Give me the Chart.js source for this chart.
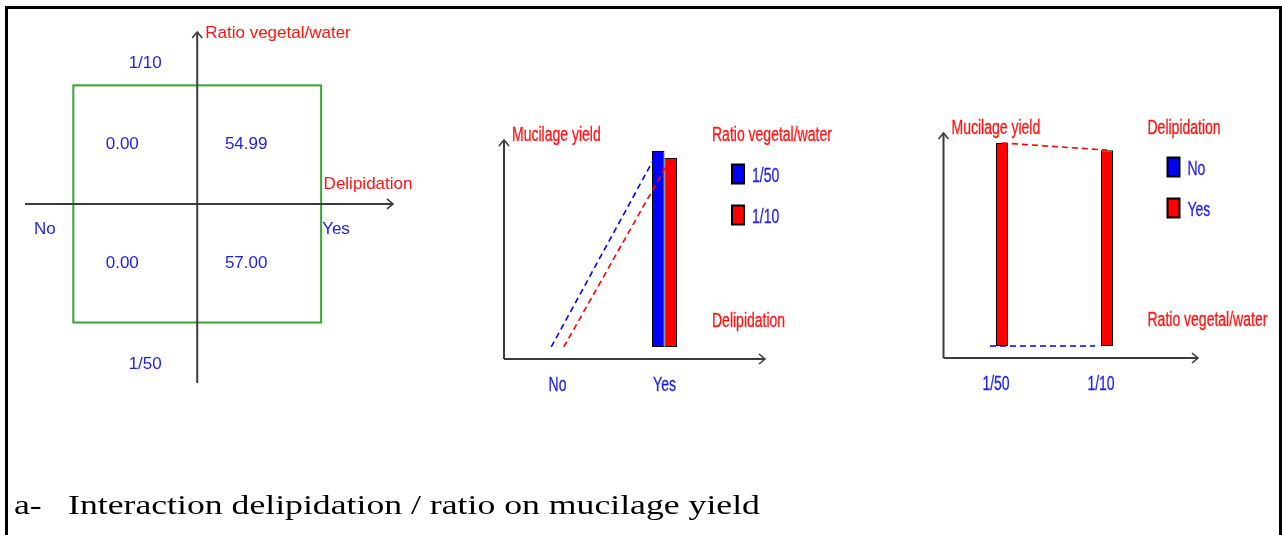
<!DOCTYPE html>
<html>
<head>
<meta charset="utf-8">
<script src="https://cdn.jsdelivr.net/npm/chart.js@4.4.1/dist/chart.umd.min.js"></script>
<style>
  html, body { margin: 0; padding: 0; background: #fff; width: 1282px; height: 535px; overflow: hidden; position: relative; }
  canvas { position: absolute; left: 0; top: 0; }
  #frame { position: absolute; left: 5px; top: 6px; width: 1277px; height: 540px; border: 3px solid #000; border-bottom: none; box-sizing: border-box; }
  .cap { position: absolute; top: 491px; line-height: 28px; font-family: 'Liberation Serif', 'Times New Roman', serif; font-size: 28px; color: #000; white-space: nowrap; transform: scaleX(1.275); transform-origin: 0 50%; }
</style>
</head>
<body>
<div id="frame"></div>
<canvas id="quad" width="1282" height="535"></canvas>
<canvas id="byDelip" width="1282" height="535"></canvas>
<canvas id="byRatio" width="1282" height="535"></canvas>
<div class="cap" style="left:14px">a-</div>
<div class="cap" style="left:68px">Interaction delipidation / ratio on mucilage yield</div>
<script>
// Factor levels
const delipidationLevels = ['No', 'Yes'];
const ratioLevels = ['1/50', '1/10'];
// Mucilage yield (%) for each ratio level, without / with delipidation
const yieldNoDelip = [0.00, 0.00];
const yieldDelip = [57.00, 54.99];

const RED = 'rgb(255,0,0)';
const BLUE = 'rgb(0,0,255)';
const TEXT_RED = 'rgb(255,20,20)';
const TEXT_BLUE = 'rgb(30,30,235)';
const AXIS = 'rgb(60,60,60)';
const SANS = "'Liberation Sans', Arial, sans-serif";

Chart.defaults.animation = false;
Chart.defaults.responsive = false;
Chart.defaults.devicePixelRatio = 1;
Chart.defaults.plugins.legend.display = false;
Chart.defaults.plugins.tooltip.enabled = false;

function text(ctx, str, x, y, opt) {
  ctx.save();
  ctx.font = (opt.size || 17) + 'px ' + SANS;
  ctx.fillStyle = opt.color;
  ctx.textBaseline = 'middle';
  const sx = opt.scaleX || 1;
  const w = ctx.measureText(str).width * sx;
  let left = x;
  if (opt.align === 'center') left = x - w / 2;
  ctx.translate(left, y);
  ctx.scale(sx, 1);
  ctx.textAlign = 'left';
  ctx.fillText(str, 0, 0);
  if (sx < 1) {
    // keep narrow glyph stems close to the weight of the regular labels
    ctx.strokeStyle = opt.color;
    ctx.lineWidth = 0.3;
    ctx.strokeText(str, 0, 0);
  }
  ctx.restore();
}

function arrowLine(ctx, x1, y1, x2, y2, dir) {
  ctx.save();
  ctx.strokeStyle = AXIS;
  ctx.lineWidth = 2;
  ctx.beginPath();
  ctx.moveTo(x1, y1);
  ctx.lineTo(x2, y2);
  ctx.stroke();
  ctx.lineWidth = 1.6;
  ctx.beginPath();
  if (dir === 'up') {
    ctx.moveTo(x2 - 5, y2 + 6); ctx.lineTo(x2, y2); ctx.lineTo(x2 + 5, y2 + 6);
  } else {
    ctx.moveTo(x2 - 6, y2 - 5); ctx.lineTo(x2, y2); ctx.lineTo(x2 - 6, y2 + 5);
  }
  ctx.stroke();
  ctx.restore();
}

// ---------- Quadrant table: delipidation (x) by ratio (y) ----------
const cells = [];
ratioLevels.forEach((r, i) => {
  delipidationLevels.forEach((d, j) => {
    cells.push({ x: j === 0 ? -0.5 : 0.5, y: i === 0 ? -0.5 : 0.5, v: (j === 0 ? yieldNoDelip : yieldDelip)[i] });
  });
});

const quadPlugin = {
  id: 'quad',
  afterDatasetsDraw(chart) {
    const { ctx, chartArea: a, scales: { x, y } } = chart;
    const x0 = x.getPixelForValue(0), y0 = y.getPixelForValue(0);
    // green frame around the four cells
    ctx.save();
    ctx.strokeStyle = 'rgb(50,165,50)';
    ctx.lineWidth = 2;
    const l = x.getPixelForValue(-1), r = x.getPixelForValue(1);
    const t = y.getPixelForValue(1), b = y.getPixelForValue(-1);
    ctx.strokeRect(l, t, r - l, b - t);
    ctx.restore();
    arrowLine(ctx, a.left, y0, a.right, y0, 'right');
    arrowLine(ctx, x0, a.bottom, x0, a.top, 'up');
    // cell values
    chart.getDatasetMeta(0).data.forEach((pt, k) => {
      text(ctx, cells[k].v.toFixed(2), pt.x - 13, pt.y, { color: TEXT_BLUE, align: 'center' });
    });
    // axis titles
    text(ctx, 'Ratio vegetal/water', x0 + 8, a.top + 1, { color: TEXT_RED });
    text(ctx, 'Delipidation', x.getPixelForValue(1.02), y0 - 20, { color: TEXT_RED });
    // level labels
    text(ctx, ratioLevels[1], x.getPixelForValue(-0.42), y.getPixelForValue(1.19), { color: TEXT_BLUE, align: 'center' });
    text(ctx, ratioLevels[0], x.getPixelForValue(-0.42), y.getPixelForValue(-1.35), { color: TEXT_BLUE, align: 'center' });
    text(ctx, delipidationLevels[0], x.getPixelForValue(-1.23), y0 + 25, { color: TEXT_BLUE, align: 'center' });
    text(ctx, delipidationLevels[1], x.getPixelForValue(1.12), y0 + 25, { color: TEXT_BLUE, align: 'center' });
  }
};

new Chart(document.getElementById('quad'), {
  type: 'scatter',
  data: { datasets: [{ data: cells, pointRadius: 0 }] },
  options: {
    layout: { padding: { left: 25, right: 889, top: 32, bottom: 152 } },
    scales: {
      x: { type: 'linear', min: -1.39, max: 1.58, display: false },
      y: { type: 'linear', min: -1.51, max: 1.45, display: false }
    }
  },
  plugins: [quadPlugin]
});

// ---------- Interaction bar plots ----------
const NARROW = 0.7;
function interactionPlugin(xTitle, legendTitle, axisExtra) {
  return {
    id: 'interaction',
    afterDatasetsDraw(chart) {
      const { ctx, chartArea: a, scales: { x } } = chart;
      // dashed profile lines joining each series across the x levels
      chart.data.datasets.forEach((ds, i) => {
        const pts = chart.getDatasetMeta(i).data;
        ctx.save();
        ctx.strokeStyle = ds.backgroundColor;
        ctx.lineWidth = 1.6;
        ctx.setLineDash([6, 4]);
        ctx.beginPath();
        pts.forEach((p, k) => (k ? ctx.lineTo(p.x, p.y) : ctx.moveTo(p.x, p.y)));
        ctx.stroke();
        ctx.restore();
      });
      arrowLine(ctx, a.left, a.bottom, a.left, a.top, 'up');
      arrowLine(ctx, a.left, a.bottom, a.right + axisExtra, a.bottom, 'right');
      const big = { color: TEXT_RED, size: 20, scaleX: NARROW };
      text(ctx, 'Mucilage yield', a.left + 8, a.top - 5, big);
      const lx = a.right - 6, ly = a.top - 5;
      text(ctx, legendTitle, lx, ly, big);
      text(ctx, xTitle, lx, a.bottom - 38, big);
      chart.data.labels.forEach((lab, k) => {
        text(ctx, lab, x.getPixelForValue(k), a.bottom + 26, { color: TEXT_BLUE, size: 20, scaleX: NARROW, align: 'center' });
      });
      // legend
      chart.data.datasets.forEach((ds, i) => {
        const cy = ly + 39 + i * 41;
        ctx.save();
        ctx.fillStyle = ds.backgroundColor;
        ctx.fillRect(lx + 20, cy - 9.5, 12, 19);
        ctx.strokeStyle = '#000';
        ctx.lineWidth = 2;
        ctx.strokeRect(lx + 20, cy - 9.5, 12, 19);
        ctx.restore();
        text(ctx, ds.label, lx + 40, cy + 2, { color: TEXT_BLUE, size: 20, scaleX: NARROW });
      });
    }
  };
}

const barStyle = { borderColor: '#000', borderWidth: 1, borderSkipped: false, barPercentage: 1 };

new Chart(document.getElementById('byDelip'), {
  type: 'bar',
  data: {
    labels: delipidationLevels,
    datasets: [
      { label: ratioLevels[0], data: [yieldNoDelip[0], yieldDelip[0]], backgroundColor: BLUE, categoryPercentage: 0.234, ...barStyle },
      { label: ratioLevels[1], data: [yieldNoDelip[1], yieldDelip[1]], backgroundColor: RED, categoryPercentage: 0.234, ...barStyle }
    ]
  },
  options: {
    layout: { padding: { left: 504, right: 564, top: 140, bottom: 176 } },
    scales: {
      x: { type: 'category', display: false },
      y: { min: -3.5, max: 60.2, display: false }
    }
  },
  plugins: [interactionPlugin('Delipidation', 'Ratio vegetal/water', 47)]
});

new Chart(document.getElementById('byRatio'), {
  type: 'bar',
  data: {
    labels: ratioLevels,
    datasets: [
      { label: delipidationLevels[0], data: yieldNoDelip, backgroundColor: BLUE, categoryPercentage: 0.229, ...barStyle },
      { label: delipidationLevels[1], data: yieldDelip, backgroundColor: RED, categoryPercentage: 0.229, ...barStyle }
    ]
  },
  options: {
    layout: { padding: { left: 943.5, right: 128.5, top: 133, bottom: 177 } },
    scales: {
      x: { type: 'category', display: false },
      y: { min: -3.37, max: 59.8, display: false }
    }
  },
  plugins: [interactionPlugin('Ratio vegetal/water', 'Delipidation', 44.5)]
});
</script>
</body>
</html>
